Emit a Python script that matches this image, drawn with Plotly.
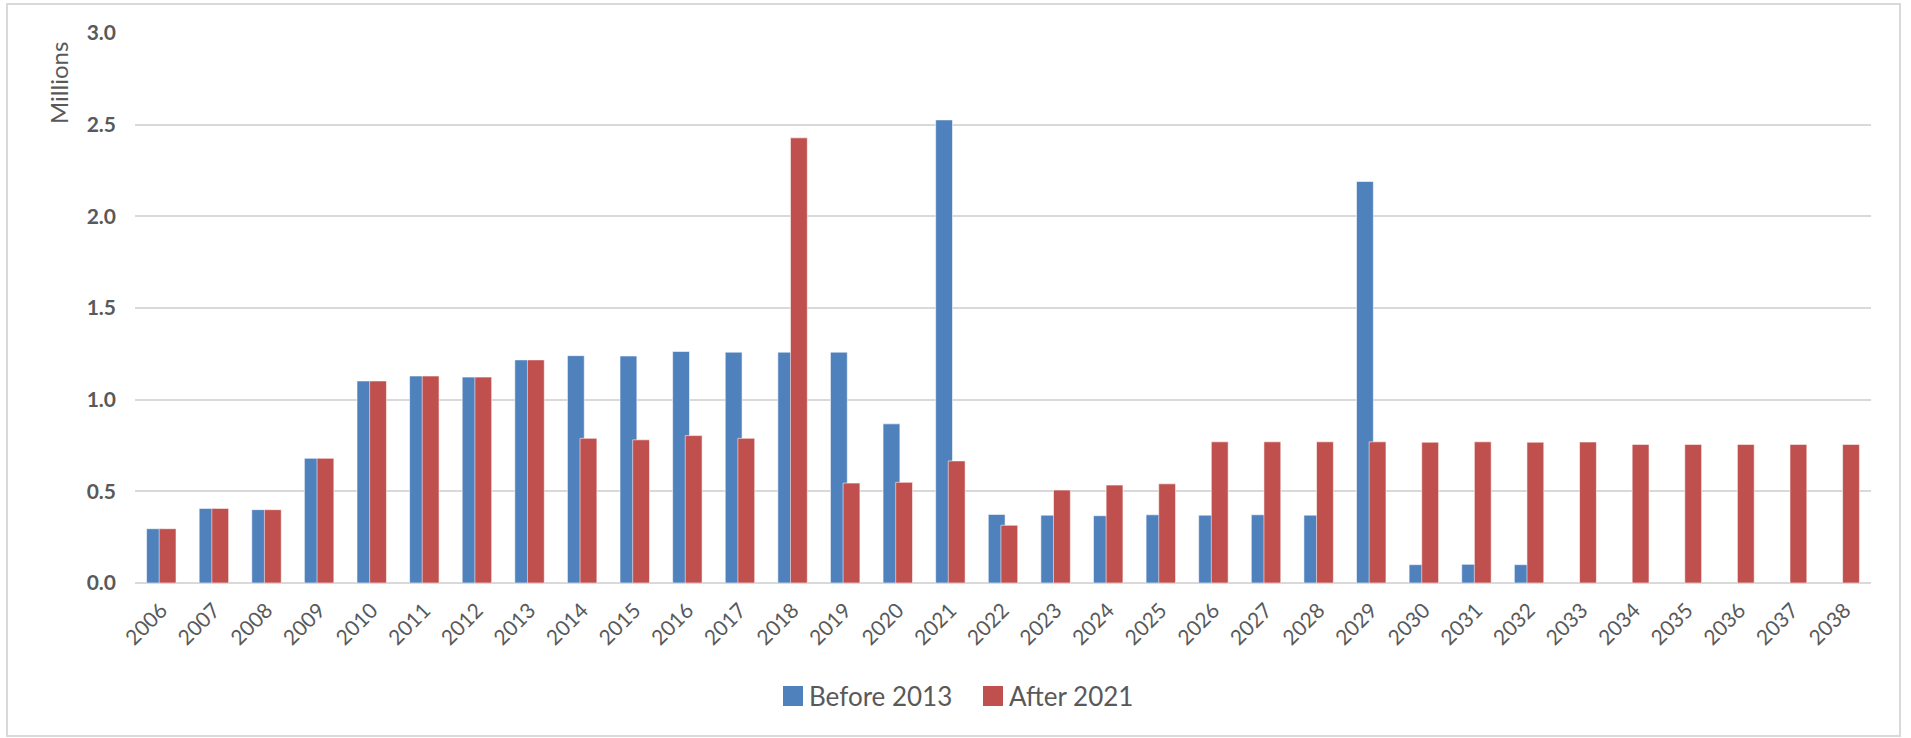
import plotly.graph_objects as go

years = [str(y) for y in range(2006, 2039)]

before_2013 = [0.296, 0.407, 0.400, 0.680, 1.102, 1.129, 1.123, 1.217, 1.240, 1.238,
               1.263, 1.259, 1.259, 1.259, 0.868, 2.526, 0.374, 0.370, 0.367, 0.372,
               0.370, 0.372, 0.370, 2.190, 0.100, 0.102, 0.100,
               None, None, None, None, None, None]

after_2021 = [0.296, 0.407, 0.400, 0.680, 1.102, 1.129, 1.123, 1.217, 0.789, 0.781,
              0.804, 0.789, 2.428, 0.545, 0.549, 0.666, 0.315, 0.507, 0.534, 0.541,
              0.770, 0.770, 0.770, 0.770, 0.768, 0.770, 0.768, 0.769, 0.756, 0.756,
              0.756, 0.756, 0.756]

y_ticks = [0.0, 0.5, 1.0, 1.5, 2.0, 2.5, 3.0]

series_names = ["Before 2013", "After 2021"]

BLUE = "#4F81BD"
RED = "#C0504D"
GRAY = "#595959"
GRID = "#D9D9D9"
FONT = "Lato"

W, H = 1911, 738
L, R, T, B = 135, 40, 33, 155
pw = W - L - R
ph = H - T - B

def px_x(x):
    return (x - L) / pw

def px_y(y):
    return (H - B - y) / ph

fig = go.Figure()
fig.add_trace(go.Bar(
    x=years, y=before_2013, name=series_names[0], showlegend=False,
    marker=dict(color=BLUE, line=dict(color="rgba(255,255,255,0.7)", width=0.8)),
    width=0.32, offset=-0.28,
))
fig.add_trace(go.Bar(
    x=years, y=after_2021, name=series_names[1], showlegend=False,
    marker=dict(color=RED, line=dict(color="rgba(255,255,255,0.7)", width=0.8)),
    width=0.32, offset=-0.04,
))

shapes = [dict(
    type="rect", xref="paper", yref="paper",
    x0=px_x(7), x1=px_x(1900), y0=px_y(736), y1=px_y(4),
    line=dict(color=GRID, width=2), fillcolor="rgba(0,0,0,0)", layer="below",
)]
annotations = [dict(
    text="Millions", xref="paper", yref="paper",
    x=px_x(58), y=px_y(83), xanchor="center", yanchor="middle",
    textangle=-90, showarrow=False,
    font=dict(family=FONT, size=24, color=GRAY),
)]

# legend drawn manually (square swatches like the original)
legend_items = [(series_names[0], BLUE, 783), (series_names[1], RED, 983)]
for name, col, x0 in legend_items:
    shapes.append(dict(
        type="rect", xref="paper", yref="paper",
        x0=px_x(x0), x1=px_x(x0 + 20), y0=px_y(706), y1=px_y(686),
        line=dict(color=col, width=0), fillcolor=col,
    ))
    annotations.append(dict(
        text=name, xref="paper", yref="paper",
        x=px_x(x0 + 24), y=px_y(696), xanchor="left", yanchor="middle",
        showarrow=False, font=dict(family=FONT, size=26, color=GRAY),
    ))

fig.update_layout(
    width=W, height=H,
    margin=dict(l=L, r=R, t=T, b=B, autoexpand=False),
    paper_bgcolor="white", plot_bgcolor="white",
    barmode="overlay",
    font=dict(family=FONT, color=GRAY),
    showlegend=False,
    xaxis=dict(
        type="category", tickangle=-45, showgrid=False, zeroline=False,
        showline=False, ticks="",
        tickfont=dict(family=FONT, size=21, color=GRAY),
        ticklabelstandoff=10,
    ),
    yaxis=dict(
        range=[0, 3], tickvals=y_ticks, tickformat=".1f",
        showgrid=True, gridcolor=GRID, gridwidth=1.5,
        zeroline=True, zerolinecolor=GRID, zerolinewidth=1.5,
        showline=False, ticks="",
        tickfont=dict(family=FONT, size=21, color=GRAY, weight="bold"),
        ticklabelstandoff=18,
    ),
    annotations=annotations,
    shapes=shapes,
)

fig.write_html("out.html")
